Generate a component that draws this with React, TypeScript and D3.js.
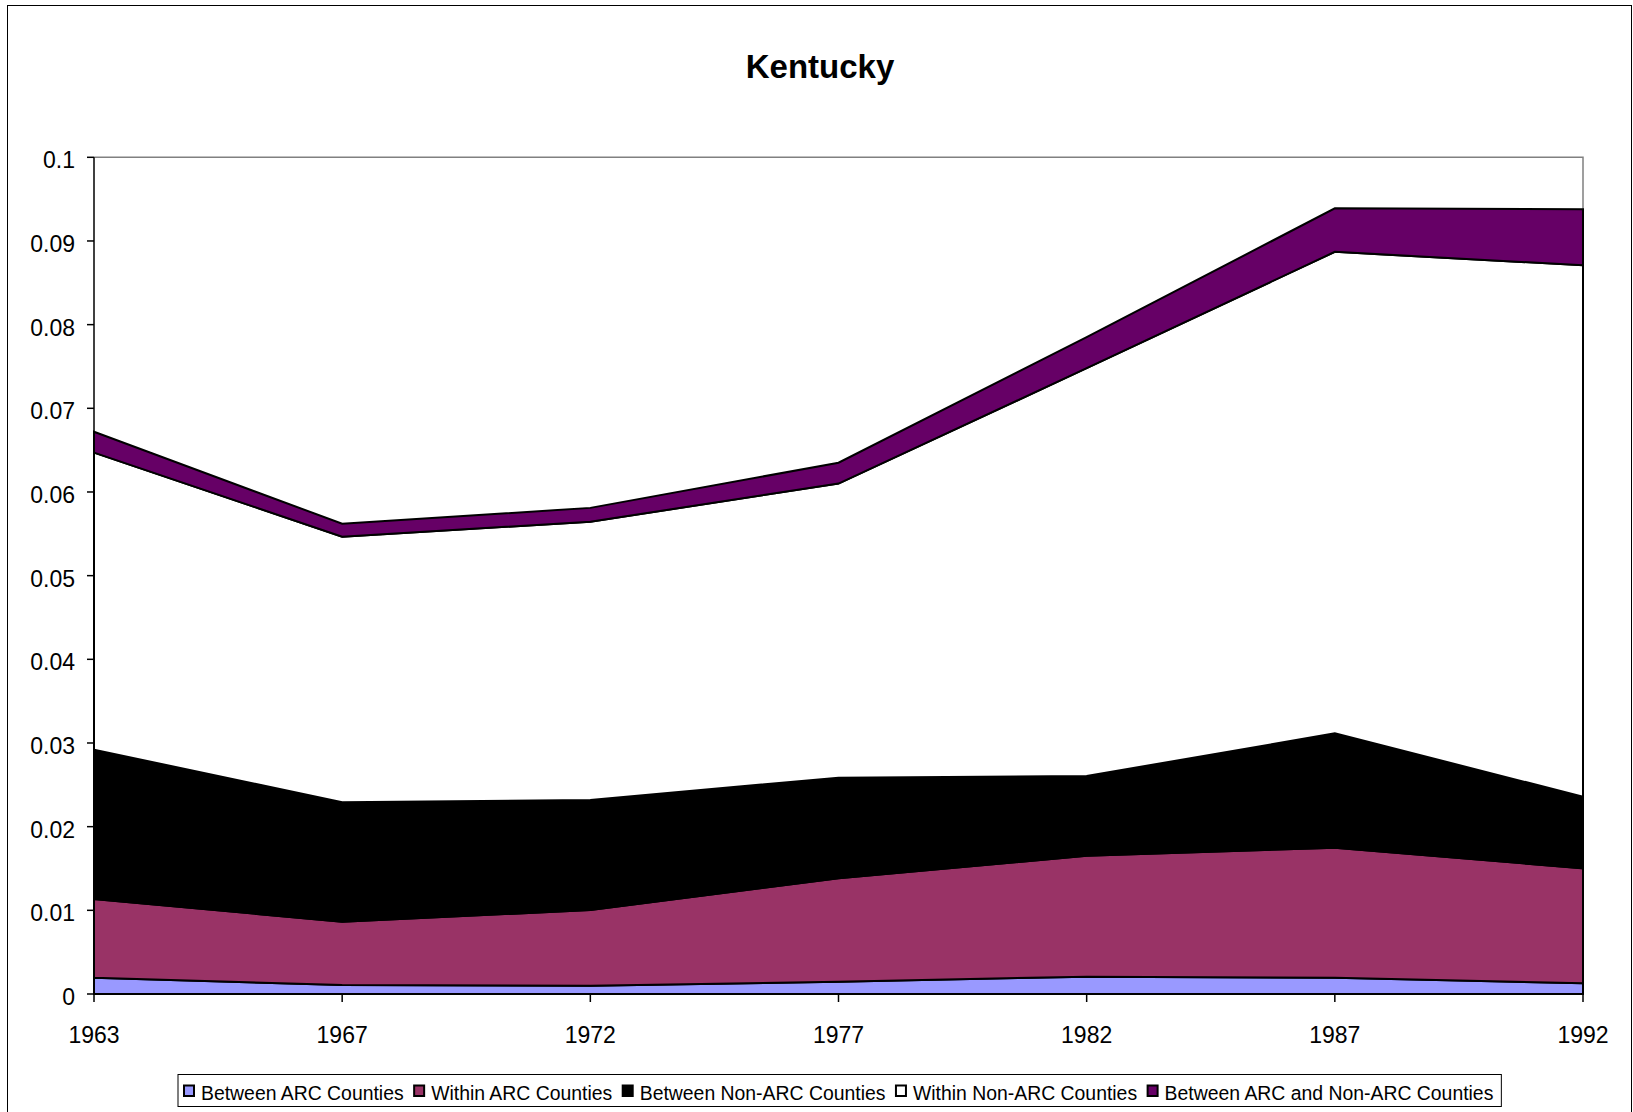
import React, { useEffect, useRef } from "react";
import * as d3 from "d3";

const years = ["1963", "1967", "1972", "1977", "1982", "1987", "1992"];
const betweenARC = [0.00195, 0.00108, 0.00099, 0.00147, 0.00207, 0.00195, 0.00128];
const withinARC = [0.0094, 0.00756, 0.00905, 0.01236, 0.01446, 0.01554, 0.01374];
const betweenNonARC = [0.01785, 0.01427, 0.01316, 0.01202, 0.00952, 0.01366, 0.00856];
const withinNonARC = [0.0355, 0.03175, 0.03325, 0.03515, 0.04875, 0.05755, 0.06352];
const betweenARCandNon = [0.0025, 0.00154, 0.00165, 0.0025, 0.0037, 0.0052, 0.0067];

const seriesNames = [
  "Between ARC Counties",
  "Within ARC Counties",
  "Between Non-ARC Counties",
  "Within Non-ARC Counties",
  "Between ARC and Non-ARC Counties",
];
const seriesColors = ["#9999FF", "#993366", "#000000", "#FFFFFF", "#660066"];
const yTicks = [0, 0.01, 0.02, 0.03, 0.04, 0.05, 0.06, 0.07, 0.08, 0.09, 0.1];
const yTickLabels = ["0", "0.01", "0.02", "0.03", "0.04", "0.05", "0.06", "0.07", "0.08", "0.09", "0.1"];

const W = 1633;
const H = 1112;
const FONT = "'Liberation Sans', Arial, sans-serif";

export default function App() {
  const ref = useRef<SVGSVGElement | null>(null);

  useEffect(() => {
    const svg = d3.select(ref.current);
    svg.selectAll("*").remove();

    const left = 94, right = 1583, top = 157.3, bottom = 994;
    const x = d3.scalePoint<string>().domain(years).range([left, right]);
    const y = d3.scaleLinear().domain([0, 0.1]).range([bottom, top]);

    // outer border
    svg.append("rect").attr("x", 7.5).attr("y", 5.5).attr("width", 1624).attr("height", 1130)
      .attr("fill", "#fff").attr("stroke", "#000").attr("stroke-width", 1);

    // title
    svg.append("text").attr("x", 820).attr("y", 77.5).attr("text-anchor", "middle")
      .attr("font-family", FONT).attr("font-weight", "bold").attr("font-size", 33).text("Kentucky");

    // plot border (grey top/right)
    svg.append("path").attr("d", `M${left},${top}H${right}V${bottom}`)
      .attr("fill", "none").attr("stroke", "#808080").attr("stroke-width", 1.5);

    const rows = years.map((yr, i) => ({
      year: yr,
      s0: betweenARC[i], s1: withinARC[i], s2: betweenNonARC[i], s3: withinNonARC[i], s4: betweenARCandNon[i],
    }));
    const stack = d3.stack<any>().keys(["s0", "s1", "s2", "s3", "s4"]);
    const layers = stack(rows);
    const area = d3.area<any>()
      .x((d) => x(d.data.year) as number)
      .y0((d) => y(d[0]))
      .y1((d) => y(d[1]));

    svg.append("g").selectAll("path").data(layers).join("path")
      .attr("d", (d: any) => area(d) + "Z")
      .attr("fill", (_d: any, i: number) => seriesColors[i])
      .attr("stroke", "#000").attr("stroke-width", 2).attr("stroke-linejoin", "miter");

    // axes
    svg.append("line").attr("x1", left).attr("x2", left).attr("y1", top).attr("y2", bottom)
      .attr("stroke", "#000").attr("stroke-width", 1.5);
    svg.append("line").attr("x1", left).attr("x2", right).attr("y1", bottom).attr("y2", bottom)
      .attr("stroke", "#000").attr("stroke-width", 1.5);

    const yg = svg.append("g");
    yTicks.forEach((t, i) => {
      yg.append("line").attr("x1", left - 7).attr("x2", left).attr("y1", y(t)).attr("y2", y(t))
        .attr("stroke", "#000").attr("stroke-width", 1.5);
      yg.append("text").attr("x", 75).attr("y", y(t) + 11).attr("text-anchor", "end")
        .attr("font-family", FONT).attr("font-size", 23).attr("fill", "#000").text(yTickLabels[i]);
    });

    const xg = svg.append("g");
    years.forEach((yr) => {
      const px = x(yr) as number;
      xg.append("line").attr("x1", px).attr("x2", px).attr("y1", bottom).attr("y2", bottom + 8)
        .attr("stroke", "#000").attr("stroke-width", 1.5);
      xg.append("text").attr("x", px).attr("y", 1043).attr("text-anchor", "middle")
        .attr("font-family", FONT).attr("font-size", 23).attr("fill", "#000").text(yr);
    });

    // legend
    const lg = svg.append("g");
    const boxX = 178, boxY = 1074.5, boxH = 32;
    const box = lg.append("rect").attr("x", boxX).attr("y", boxY).attr("height", boxH)
      .attr("fill", "#fff").attr("stroke", "#000").attr("stroke-width", 1);
    let cx = boxX + 6;
    const gap = 10.5;
    seriesNames.forEach((name, i) => {
      lg.append("rect").attr("x", cx).attr("y", 1085.5).attr("width", 10).attr("height", 10.5)
        .attr("fill", seriesColors[i]).attr("stroke", "#000").attr("stroke-width", 2);
      const t = lg.append("text").attr("x", cx + 17).attr("y", 1099.5)
        .attr("font-family", FONT).attr("font-size", 19.4).attr("fill", "#000").text(name);
      const w = (t.node() as SVGTextElement).getComputedTextLength();
      cx = cx + 17 + w + gap;
    });
    box.attr("width", cx - gap + 8 - boxX);
  }, []);

  return (
    <svg
      ref={ref}
      width={W}
      height={H}
      style={{ position: "absolute", left: 0, top: 0, background: "#fff" }}
    />
  );
}
